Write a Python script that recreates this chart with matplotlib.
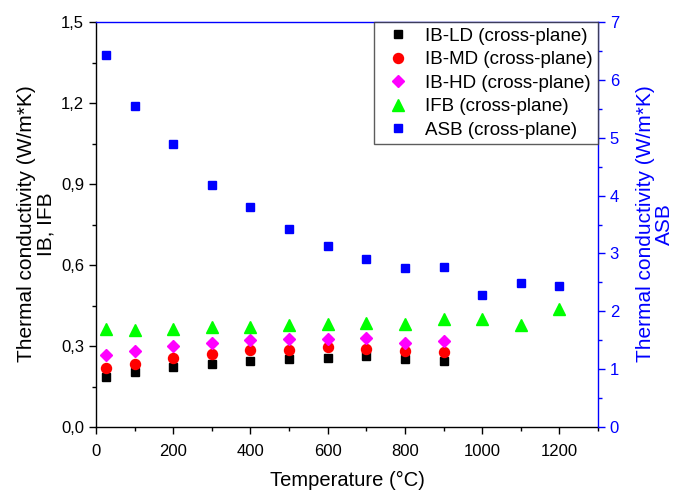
import matplotlib
matplotlib.use("Agg")
import matplotlib.pyplot as plt
from matplotlib.ticker import MultipleLocator, FuncFormatter

plt.rcParams['font.family'] = ['Liberation Sans', 'DejaVu Sans']

# Data
temps_ib = [25, 100, 200, 300, 400, 500, 600, 700, 800, 900]
temps_all = [25, 100, 200, 300, 400, 500, 600, 700, 800, 900, 1000, 1100, 1200]
ib_ld = [0.187, 0.202, 0.222, 0.235, 0.244, 0.251, 0.255, 0.262, 0.251, 0.244]
ib_md = [0.219, 0.233, 0.254, 0.269, 0.284, 0.285, 0.297, 0.289, 0.281, 0.277]
ib_hd = [0.267, 0.280, 0.300, 0.310, 0.323, 0.326, 0.326, 0.331, 0.310, 0.318]
ifb = [0.362, 0.359, 0.362, 0.369, 0.369, 0.377, 0.380, 0.385, 0.380, 0.399, 0.399, 0.379, 0.438]
asb = [6.43, 5.55, 4.89, 4.18, 3.81, 3.43, 3.13, 2.90, 2.75, 2.76, 2.28, 2.49, 2.44]

labels = ["IB-LD (cross-plane)", "IB-MD (cross-plane)", "IB-HD (cross-plane)",
          "IFB (cross-plane)", "ASB (cross-plane)"]

fig = plt.figure(figsize=(6.75, 4.93), dpi=100)
ax = fig.add_axes([96/675, 1-427/493, (598-96)/675, (427-22)/493])
ax2 = ax.twinx()

h1, = ax.plot(temps_ib, ib_ld, ls='none', marker='s', ms=5.8, color='black', mec='black')
h2, = ax.plot(temps_ib, ib_md, ls='none', marker='o', ms=7.2, color='#ff0000', mec='#ff0000')
h3, = ax.plot(temps_ib, ib_hd, ls='none', marker='D', ms=6.2, color='#ff00ff', mec='#ff00ff')
h4, = ax.plot(temps_all, ifb, ls='none', marker='^', ms=8.5, color='#00ff00', mec='#00ff00')
h5, = ax2.plot(temps_all, asb, ls='none', marker='s', ms=5.8, color='#0000ff', mec='#0000ff')

ax.set_xlim(0, 1300)
ax.set_ylim(0, 1.5)
ax2.set_ylim(0, 7)

ax.xaxis.set_major_locator(MultipleLocator(200))
ax.xaxis.set_minor_locator(MultipleLocator(100))
ax.yaxis.set_major_locator(MultipleLocator(0.3))
ax.yaxis.set_minor_locator(MultipleLocator(0.15))
ax.yaxis.set_major_formatter(FuncFormatter(lambda v, p: f"{v:.1f}".replace('.', ',')))
ax2.yaxis.set_major_locator(MultipleLocator(1))
ax2.yaxis.set_minor_locator(MultipleLocator(0.5))

for a in (ax, ax2):
    a.tick_params(which='major', direction='out', length=5, width=1, labelsize=12)
    a.tick_params(which='minor', direction='out', length=3, width=1)

ax.tick_params(axis='x', which='both', top=False)
ax.tick_params(axis='x', which='major', pad=7)
ax2.tick_params(axis='y', which='both', colors='#0000ff', labelcolor='#0000ff')

for s in ax.spines.values():
    s.set_linewidth(1.0)
ax.spines['right'].set_visible(False)
ax.spines['top'].set_visible(False)
ax2.spines['left'].set_visible(False)
ax2.spines['bottom'].set_visible(False)
ax2.spines['right'].set_color('#0000ff')
ax2.spines['top'].set_color('#0000ff')
ax2.spines['right'].set_linewidth(1.0)
ax2.spines['top'].set_linewidth(1.0)

ax.set_xlabel("Temperature (°C)", fontsize=14.5, labelpad=9)
fig.text(36/675, 1-224/493, "Thermal conductivity (W/m*K)\nIB, IFB", rotation=90,
         ha='center', va='center', multialignment='center', fontsize=15, linespacing=1.0)
fig.text(655/675, 1-224/493, "Thermal conductivity (W/m*K)\nASB", rotation=90,
         ha='center', va='center', multialignment='center', fontsize=15, linespacing=1.0,
         color='#0000ff')

leg = ax2.legend([h1, h2, h3, h4, h5], labels, loc='upper right', bbox_to_anchor=(1, 1),
                 borderaxespad=0, frameon=True, fancybox=False, fontsize=13.5,
                 labelspacing=0.34, borderpad=0.3, handlelength=2.0, handletextpad=0.42)
leg.get_frame().set_edgecolor('#333333')
leg.get_frame().set_linewidth(1.0)

fig.savefig("out.png", dpi=100)
